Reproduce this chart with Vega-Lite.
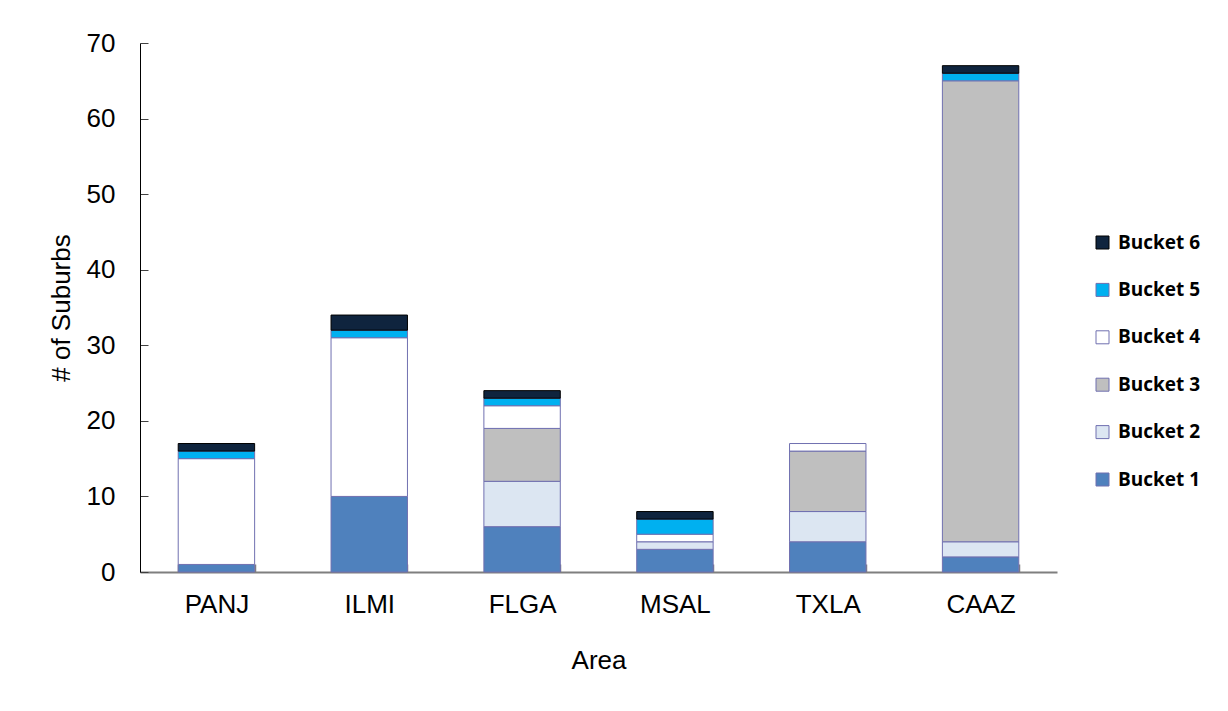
{
  "$schema": "https://vega.github.io/schema/vega-lite/v6.json",
  "autosize": {"type": "none"},
  "width": 917,
  "height": 529,
  "padding": {"left": 140, "top": 43, "right": 171, "bottom": 139},
  "background": "white",
  "config": {
    "view": {"stroke": null},
    "font": "Liberation Sans"
  },
  "data": {
    "values": [
      {"area": "PANJ", "bucket": "Bucket 1", "k": 1, "n": 1},
      {"area": "PANJ", "bucket": "Bucket 4", "k": 4, "n": 14},
      {"area": "PANJ", "bucket": "Bucket 5", "k": 5, "n": 1},
      {"area": "PANJ", "bucket": "Bucket 6", "k": 6, "n": 1},
      {"area": "ILMI", "bucket": "Bucket 1", "k": 1, "n": 10},
      {"area": "ILMI", "bucket": "Bucket 4", "k": 4, "n": 21},
      {"area": "ILMI", "bucket": "Bucket 5", "k": 5, "n": 1},
      {"area": "ILMI", "bucket": "Bucket 6", "k": 6, "n": 2},
      {"area": "FLGA", "bucket": "Bucket 1", "k": 1, "n": 6},
      {"area": "FLGA", "bucket": "Bucket 2", "k": 2, "n": 6},
      {"area": "FLGA", "bucket": "Bucket 3", "k": 3, "n": 7},
      {"area": "FLGA", "bucket": "Bucket 4", "k": 4, "n": 3},
      {"area": "FLGA", "bucket": "Bucket 5", "k": 5, "n": 1},
      {"area": "FLGA", "bucket": "Bucket 6", "k": 6, "n": 1},
      {"area": "MSAL", "bucket": "Bucket 1", "k": 1, "n": 3},
      {"area": "MSAL", "bucket": "Bucket 2", "k": 2, "n": 1},
      {"area": "MSAL", "bucket": "Bucket 4", "k": 4, "n": 1},
      {"area": "MSAL", "bucket": "Bucket 5", "k": 5, "n": 2},
      {"area": "MSAL", "bucket": "Bucket 6", "k": 6, "n": 1},
      {"area": "TXLA", "bucket": "Bucket 1", "k": 1, "n": 4},
      {"area": "TXLA", "bucket": "Bucket 2", "k": 2, "n": 4},
      {"area": "TXLA", "bucket": "Bucket 3", "k": 3, "n": 8},
      {"area": "TXLA", "bucket": "Bucket 4", "k": 4, "n": 1},
      {"area": "CAAZ", "bucket": "Bucket 1", "k": 1, "n": 2},
      {"area": "CAAZ", "bucket": "Bucket 2", "k": 2, "n": 2},
      {"area": "CAAZ", "bucket": "Bucket 3", "k": 3, "n": 61},
      {"area": "CAAZ", "bucket": "Bucket 5", "k": 5, "n": 1},
      {"area": "CAAZ", "bucket": "Bucket 6", "k": 6, "n": 1}
    ]
  },
  "encoding": {
    "x": {
      "field": "area",
      "type": "nominal",
      "sort": ["PANJ", "ILMI", "FLGA", "MSAL", "TXLA", "CAAZ"],
      "scale": {"paddingInner": 0.5, "paddingOuter": 0.25}
    },
    "y": {
      "field": "n",
      "type": "quantitative",
      "stack": "zero",
      "scale": {"domain": [0, 70], "nice": false}
    }
  },
  "layer": [
    {
      "mark": {"type": "bar", "strokeWidth": 1},
      "encoding": {
        "x": {
          "field": "area",
          "type": "nominal",
          "sort": ["PANJ", "ILMI", "FLGA", "MSAL", "TXLA", "CAAZ"],
          "axis": {
            "orient": "bottom",
            "offset": -8,
            "domain": false,
            "title": "Area",
            "titleFontSize": 26,
            "titleFontWeight": "normal",
            "titleColor": "black",
            "titlePadding": 30,
            "labelFontSize": 26,
            "labelColor": "black",
            "labelAngle": 0,
            "labelPadding": 19,
            "tickBand": "extent",
            "tickSize": 8,
            "tickColor": "#7f7f7f",
            "tickWidth": 1.5
          }
        },
        "y": {
          "field": "n",
          "type": "quantitative",
          "stack": "zero",
          "axis": {
            "orient": "left",
            "offset": -8,
            "domain": false,
            "title": "# of Suburbs",
            "titleFontSize": 26,
            "titleFontWeight": "normal",
            "titleColor": "black",
            "titlePadding": 12,
            "labelFontSize": 26,
            "labelColor": "black",
            "labelPadding": 25,
            "values": [0, 10, 20, 30, 40, 50, 60, 70],
            "grid": false,
            "tickSize": 8,
            "tickColor": "#404040"
          }
        },
        "order": {"field": "k", "type": "quantitative", "sort": "ascending"},
        "color": {
          "field": "bucket",
          "type": "nominal",
          "sort": "descending",
          "scale": {
            "domain": ["Bucket 6", "Bucket 5", "Bucket 4", "Bucket 3", "Bucket 2", "Bucket 1"],
            "range": ["#0f243e", "#00b0f0", "#ffffff", "#bfbfbf", "#dce6f2", "#4f81bd"]
          },
          "legend": {
            "title": null,
            "orient": "none",
            "legendX": 953,
            "legendY": 190,
            "symbolType": "square",
            "symbolSize": 169,
            "symbolStrokeColor": "#7070b0",
            "symbolStrokeWidth": 1,
            "symbolOpacity": 1,
            "labelFont": "Open Sans",
            "labelFontSize": 19,
            "labelFontWeight": "bold",
            "labelColor": "black",
            "labelOffset": 6,
            "rowPadding": 27.4
          }
        },
        "stroke": {
          "field": "bucket",
          "type": "nominal",
          "scale": {
            "domain": ["Bucket 6", "Bucket 5", "Bucket 4", "Bucket 3", "Bucket 2", "Bucket 1"],
            "range": ["#000000", "#7070b0", "#7070b0", "#7070b0", "#7070b0", "#7070b0"]
          },
          "legend": null
        }
      }
    },
    {
      "transform": [{"filter": "false"}],
      "mark": {"type": "bar"},
      "encoding": {
        "x": {
          "field": "area",
          "type": "nominal",
          "sort": ["PANJ", "ILMI", "FLGA", "MSAL", "TXLA", "CAAZ"],
          "axis": {
            "orient": "bottom",
            "title": null,
            "labels": false,
            "ticks": false,
            "domainColor": "#7f7f7f",
            "domainWidth": 2
          }
        },
        "y": {
          "field": "n",
          "type": "quantitative",
          "axis": {
            "orient": "left",
            "title": null,
            "labels": false,
            "ticks": false,
            "grid": false,
            "domainColor": "black",
            "domainWidth": 1
          }
        }
      }
    }
  ],
  "resolve": {"axis": {"x": "independent", "y": "independent"}}
}
